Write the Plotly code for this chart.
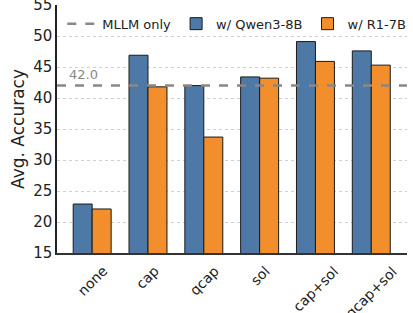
import plotly.graph_objects as go

categories = ["none", "cap", "qcap", "sol", "cap+sol", "qcap+sol"]
qwen_vals = [22.9, 46.9, 42.0, 43.4, 49.1, 47.6]
r1_vals = [22.1, 41.8, 33.7, 43.2, 45.9, 45.3]
baseline = 42.0
y_ticks = [15, 20, 25, 30, 35, 40, 45, 50, 55]

FONT = "DejaVu Sans"
xs = list(range(len(categories)))

fig = go.Figure()
fig.add_trace(go.Scatter(
    x=[-0.63, 5.64], y=[baseline, baseline], mode="lines",
    line=dict(color="#888888", width=2.5, dash="dash"),
    name="MLLM only", showlegend=True, cliponaxis=False))
fig.add_trace(go.Bar(
    x=xs, y=qwen_vals, name="w/ Qwen3-8B", offsetgroup=0,
    marker=dict(color="#4e79a7", line=dict(color="#1a1a1a", width=1)),
    width=0.34, offset=-0.34))
fig.add_trace(go.Bar(
    x=xs, y=r1_vals, name="w/ R1-7B", offsetgroup=1,
    marker=dict(color="#f28e2b", line=dict(color="#1a1a1a", width=1)),
    width=0.34, offset=0.0))

fig.add_annotation(x=0.029, xref="paper", y=43.75, yref="y", text="42.0",
                   showarrow=False, xanchor="left", yanchor="middle",
                   font=dict(family=FONT, size=13, color="#888888"))

# x tick labels, centred under each category and rotated like the reference
for i, cat in enumerate(categories):
    fig.add_annotation(x=i, xref="x", y=0, yref="paper", text=cat,
                       showarrow=False, textangle=-45, xanchor="center",
                       yanchor="top", yshift=-7,
                       font=dict(family=FONT, size=14, color="#222222"))

fig.update_layout(
    width=413, height=313,
    margin=dict(l=57, r=6, t=5, b=60, autoexpand=False),
    paper_bgcolor="white", plot_bgcolor="white",
    font=dict(family=FONT, color="#222222"),
    barmode="group",
    showlegend=True,
    legend=dict(orientation="h", x=0.015, y=0.985, xanchor="left", yanchor="top",
                font=dict(family=FONT, size=13, color="#222222"),
                bgcolor="rgba(255,255,255,0)", itemwidth=30,
                tracegroupgap=0, traceorder="normal"),
)
fig.update_xaxes(
    range=[-0.63, 5.64], tickmode="array", tickvals=xs, ticktext=categories,
    showticklabels=False,
    showgrid=False, showline=True, linecolor="#333333", linewidth=1.5,
    ticks="", zeroline=False, automargin=False)
fig.update_yaxes(
    range=[15, 55], tickmode="array", tickvals=y_ticks,
    tickfont=dict(family=FONT, size=15, color="#222222"),
    ticklabeloverflow="allow",
    showgrid=True, gridcolor="#d0d0d0", griddash="dot", gridwidth=1,
    showline=True, linecolor="#222222", linewidth=1.5, ticks="",
    zeroline=False, automargin=False,
    title=dict(text="Avg. Accuracy", font=dict(family=FONT, size=17, color="#222222"), standoff=4))

fig.write_html("out.html", config={"displayModeBar": False},
               post_script="document.body.style.margin='0px';")
